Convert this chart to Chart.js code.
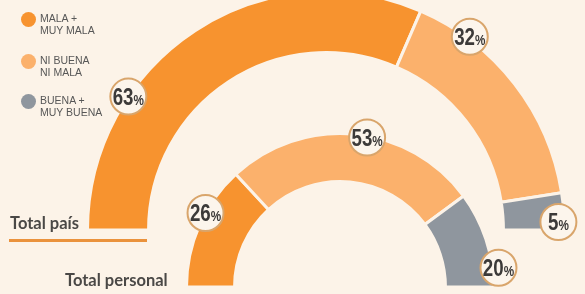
<!DOCTYPE html>
<html>
<head>
<meta charset="utf-8">
<script src="https://cdn.jsdelivr.net/npm/chart.js@4"></script>
<style>
  html, body { margin: 0; padding: 0; background: #fcf3e8; }
  #wrap { position: relative; width: 585px; height: 294px; overflow: hidden; background: #fcf3e8; }
  canvas { position: absolute; left: 0; top: 0; }
  .leg { position: absolute; left: 20px; font-family: "Liberation Sans", Arial, sans-serif; font-size: 10.5px; line-height: 12px; color: #575757; }
  .leg .dot { position: absolute; left: 1px; width: 15px; height: 15px; border-radius: 50%; }
  .leg .txt { position: absolute; left: 20px; white-space: nowrap; }
  .ttl { position: absolute; font-family: Lato, "Liberation Sans", sans-serif; font-weight: 700; font-size: 16.5px; line-height: 16.5px; color: #4a4846; white-space: nowrap; }
  #uline { position: absolute; left: 9px; top: 239px; width: 138px; height: 3px; background: #ea923c; }
</style>
</head>
<body>
<div id="wrap">
  <canvas id="outer" width="585" height="294"></canvas>
  <canvas id="inner" width="585" height="294"></canvas>
  <div id="legend"></div>
  <div class="ttl" id="t0" style="left:10px; top:215px;"></div>
  <div id="uline"></div>
  <div class="ttl" id="t1" style="left:65px; top:272px;"></div>
</div>
<script>
// ---- data ----
const categories = [['MALA +', 'MUY MALA'], ['NI BUENA', 'NI MALA'], ['BUENA +', 'MUY BUENA']];
const seriesNames = ['Total país', 'Total personal'];
const totalPais = [63, 32, 5];
const totalPersonal = [26, 53, 20];

// ---- styles ----
const colors = ['#f7932f', '#fbb16c', '#8f969e'];
const bg = '#fcf3e8';

// legend + titles (HTML text)
const legTops = [12, 54, 94];
const legend = document.getElementById('legend');
categories.forEach((lines, i) => {
  const d = document.createElement('div');
  d.className = 'leg';
  d.style.top = legTops[i] + 'px';
  d.innerHTML = '<div class="dot" style="top:' + (i === 0 ? 0 : 0) + 'px;background:' + colors[i] + '"></div>' +
    '<div class="txt">' + lines.join('<br>') + '</div>';
  legend.appendChild(d);
});
document.getElementById('t0').textContent = seriesNames[0];
document.getElementById('t1').textContent = seriesNames[1];

// badge plugin: draws percentage circles on arcs
const badgePlugin = {
  id: 'badges',
  afterDatasetsDraw(chart, args, opts) {
    const ctx = chart.ctx;
    const meta = chart.getDatasetMeta(0);
    const data = chart.data.datasets[0].data;
    meta.data.forEach((arc, i) => {
      const p = arc.getProps(['x', 'y', 'startAngle', 'endAngle', 'outerRadius'], true);
      const a = p.startAngle + opts.fractions[i] * (p.endAngle - p.startAngle);
      const r = p.outerRadius * opts.radii[i];
      const cx = p.x + Math.cos(a) * r;
      const cy = p.y + Math.sin(a) * r;
      ctx.save();
      ctx.beginPath();
      ctx.arc(cx, cy, 18, 0, Math.PI * 2);
      ctx.fillStyle = '#fcf5ec';
      ctx.fill();
      ctx.lineWidth = 2;
      ctx.strokeStyle = '#d9a56b';
      ctx.stroke();
      // text, condensed
      const num = String(data[i]);
      const sx = 0.78;
      ctx.font = 'bold 24px "Liberation Sans", Arial, sans-serif';
      const wNum = ctx.measureText(num).width * sx;
      ctx.font = 'bold 15px "Liberation Sans", Arial, sans-serif';
      const wPct = ctx.measureText('%').width * sx;
      const total = wNum + wPct;
      const x0 = cx - total / 2;
      const base = cy + 8.5;
      ctx.fillStyle = '#3c3a39';
      ctx.textBaseline = 'alphabetic';
      ctx.textAlign = 'left';
      ctx.translate(x0, base);
      ctx.scale(sx, 1);
      ctx.font = 'bold 24px "Liberation Sans", Arial, sans-serif';
      ctx.fillText(num, 0, 0);
      ctx.font = 'bold 15px "Liberation Sans", Arial, sans-serif';
      ctx.fillText('%', wNum / sx, 0);
      ctx.restore();
    });
  }
};

function makeChart(id, values, radius, cutout, padding, fractions, radii) {
  return new Chart(document.getElementById(id), {
    type: 'doughnut',
    data: {
      labels: categories.map(l => l.join(' ')),
      datasets: [{
        data: values,
        backgroundColor: colors,
        borderColor: bg,
        borderWidth: 3,
        hoverOffset: 0
      }]
    },
    options: {
      responsive: false,
      animation: false,
      rotation: -90,
      circumference: 180,
      radius: radius,
      cutout: cutout,
      layout: { padding: padding },
      events: [],
      plugins: {
        legend: { display: false },
        tooltip: { enabled: false },
        badges: { fractions: fractions, radii: radii }
      }
    },
    plugins: [badgePlugin]
  });
}

makeChart('outer', totalPais, 238.5, '74.4%',
  { left: 67, right: 0, top: 0, bottom: 72.5 },
  [0.30, 0.23, 0.78], [1.0, 1.01, 0.975]);
makeChart('inner', totalPersonal, 153.5, '68.7%',
  { left: 95, right: 0, top: 126.5, bottom: 0 },
  [0.61, 0.55, 0.81], [1.0, 0.99, 1.04]);
</script>
</body>
</html>
